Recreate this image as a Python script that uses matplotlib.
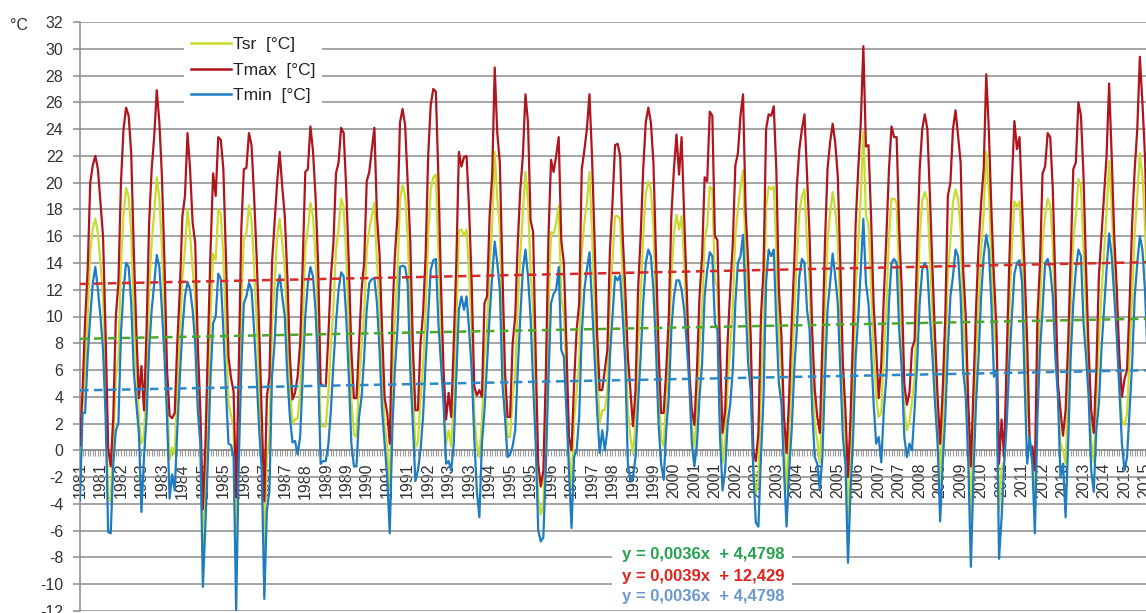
import matplotlib
matplotlib.use('Agg')
import matplotlib.pyplot as plt
from matplotlib.lines import Line2D
from matplotlib.patches import Rectangle
import numpy as np

plt.rcParams['font.family'] = ['Liberation Sans', 'DejaVu Sans']

years = list(range(1981, 2016))

tsr = [
    -1.8, 3.4, 6.0, 10.0, 14.8, 16.6, 17.3, 16.2, 14.0, 11.5, 5.3, -3.5,   # 1981
    -3.8, 0.6, 5.5, 7.0, 14.0, 17.6, 19.6, 19.0, 16.3, 10.2, 6.0, 2.4,    # 1982
    0.5, 1.0, 5.5, 12.0, 15.5, 17.8, 20.4, 18.8, 15.2, 10.2, 4.0, -0.7,   # 1983
    0.2, -0.3, 4.5, 8.5, 13.0, 15.0, 18.0, 16.2, 13.5, 11.5, 5.3, 1.5,    # 1984
    -7.4, -2.6, 3.5, 10.0, 14.7, 14.2, 18.0, 17.7, 14.5, 9.0, 3.5, 2.6,   # 1985
    1.8, -7.8, 2.3, 11.0, 15.8, 16.2, 18.3, 17.2, 13.8, 9.7, 5.0, 0.3,    # 1986
    -7.5, -0.5, 1.0, 9.5, 12.3, 16.0, 17.3, 15.5, 13.5, 9.0, 4.6, 2.0,    # 1987
    2.3, 2.4, 4.3, 9.5, 15.2, 16.5, 18.5, 17.5, 14.5, 9.8, 1.8, 1.8,      # 1988
    1.8, 4.2, 7.8, 10.8, 15.0, 16.5, 18.8, 18.2, 14.5, 9.5, 3.8, 1.2,     # 1989
    1.0, 5.0, 7.8, 10.3, 15.0, 16.5, 17.5, 18.5, 14.0, 11.0, 6.0, 2.0,    # 1990
    0.2, -2.9, 5.5, 10.0, 13.0, 18.8, 19.8, 19.0, 16.0, 10.5, 4.8, 0.2,   # 1991
    0.6, 3.8, 6.2, 10.3, 16.0, 19.5, 20.4, 20.6, 15.0, 9.3, 4.5, 0.5,     # 1992
    1.5, 0.3, 4.0, 9.5, 16.4, 16.5, 16.0, 16.5, 13.3, 9.0, 2.7, 0.5,      # 1993
    -0.5, 2.2, 7.0, 9.0, 13.8, 16.8, 22.3, 18.8, 16.6, 9.0, 4.2, 1.0,     # 1994
    1.0, 4.0, 5.7, 10.7, 14.7, 17.7, 20.8, 18.6, 13.5, 10.5, 3.8, -3.5,   # 1995
    -4.8, -4.0, 2.5, 10.5, 16.3, 16.2, 17.0, 18.3, 11.5, 10.3, 5.5, 0.0,  # 1996
    -2.8, 2.2, 4.5, 6.7, 14.8, 17.0, 18.5, 20.8, 16.3, 11.0, 5.8, 2.0,    # 1997
    3.0, 3.0, 4.5, 11.0, 14.2, 17.5, 17.5, 17.3, 13.0, 9.2, 3.0, 1.0,     # 1998
    -0.2, 2.0, 7.7, 11.5, 16.0, 19.2, 20.1, 19.5, 16.7, 11.0, 4.7, 0.9,   # 1999
    0.3, 3.7, 7.0, 13.0, 16.2, 17.6, 16.5, 17.5, 14.0, 10.0, 5.5, 1.7,    # 2000
    0.3, 3.2, 7.7, 10.5, 15.8, 16.8, 19.7, 19.5, 12.7, 12.2, 4.2, -0.9,   # 2001
    0.7, 5.0, 7.7, 10.7, 16.0, 18.0, 19.7, 20.9, 14.5, 10.2, 6.5, -0.8,   # 2002
    -3.2, -2.3, 4.7, 8.7, 18.2, 19.7, 19.5, 19.7, 15.2, 8.5, 6.0, 0.5,    # 2003
    -3.0, 1.2, 5.5, 10.0, 14.3, 17.7, 19.0, 19.5, 15.5, 12.5, 6.0, 2.0,   # 2004
    0.7, -0.9, 3.7, 10.5, 15.7, 17.7, 19.3, 18.0, 15.7, 10.0, 3.7, 1.0,   # 2005
    -5.2, -0.3, 5.0, 12.0, 15.5, 19.0, 23.8, 17.6, 16.9, 12.5, 7.2, 4.0,  # 2006
    2.5, 2.8, 7.2, 10.7, 16.0, 18.8, 18.8, 18.5, 12.7, 9.0, 3.0, 1.5,     # 2007
    2.2, 3.6, 5.5, 10.7, 16.0, 18.7, 19.3, 18.7, 14.5, 10.2, 6.0, 2.2,    # 2008
    -2.5, 1.7, 6.2, 13.2, 15.7, 18.5, 19.5, 18.8, 16.5, 9.7, 7.0, 1.2,    # 2009
    -5.0, 1.2, 7.0, 11.0, 15.0, 17.7, 22.3, 19.5, 14.5, 9.2, 7.5, -4.5,   # 2010
    -1.3, -0.8, 4.5, 10.2, 15.0, 18.6, 18.2, 18.6, 15.3, 9.2, 3.5, 0.7,   # 2011
    -0.4, -3.9, 6.2, 10.7, 15.5, 17.5, 18.8, 18.3, 15.3, 9.7, 4.5, 0.5,   # 2012
    0.0, -1.0, 4.2, 10.7, 15.8, 17.5, 20.3, 19.7, 15.0, 10.2, 5.7, 0.7,   # 2013
    -0.9, 3.7, 8.2, 11.7, 14.7, 17.7, 21.6, 18.2, 13.7, 10.2, 5.7, 2.2,   # 2014
    1.9, 2.7, 7.0, 11.7, 16.2, 19.0, 22.2, 20.5, 17.0, 11.0, 6.7, 2.2,    # 2015
]

tmax = [
    0.4, 4.5, 9.7, 13.5, 20.0, 21.3, 22.0, 21.0, 18.5, 16.0, 8.7, 0.2,    # 1981
    -1.2, 2.5, 10.0, 12.5, 20.0, 24.0, 25.6, 25.0, 22.2, 15.0, 9.0, 3.9,  # 1982
    6.3, 3.0, 9.0, 17.0, 21.0, 23.5, 26.9, 24.5, 20.5, 14.0, 6.0, 2.6,    # 1983
    2.4, 2.8, 8.0, 12.0, 17.5, 19.0, 23.7, 21.0, 17.0, 15.5, 8.0, 3.0,    # 1984
    -4.4, 0.5, 8.0, 15.0, 20.7, 19.0, 23.4, 23.2, 21.0, 14.5, 7.0, 5.4,   # 1985
    4.4, -3.5, 6.0, 16.5, 21.0, 21.1, 23.7, 22.8, 19.0, 14.5, 9.0, 2.5,   # 1986
    -3.8, 4.0, 5.5, 14.0, 17.0, 20.0, 22.3, 19.7, 17.5, 13.0, 7.0, 3.8,   # 1987
    4.3, 5.5, 8.0, 14.0, 20.8, 21.0, 24.2, 22.4, 19.0, 14.0, 5.0, 4.8,    # 1988
    4.8, 8.5, 13.0, 15.5, 20.7, 21.5, 24.1, 23.7, 19.5, 14.0, 7.5, 3.9,   # 1989
    3.9, 8.0, 12.0, 14.0, 20.1, 20.8, 22.5, 24.1, 17.5, 14.7, 9.0, 3.9,   # 1990
    2.8, 0.5, 10.0, 14.5, 17.5, 24.5, 25.5, 24.3, 20.0, 15.7, 8.0, 3.0,   # 1991
    3.0, 8.0, 10.2, 14.5, 22.0, 25.8, 27.0, 26.8, 20.4, 12.5, 6.0, 2.3,   # 1992
    4.3, 2.5, 8.0, 14.0, 22.3, 21.2, 21.9, 22.0, 18.0, 12.5, 4.8, 4.1,    # 1993
    4.5, 4.0, 11.0, 11.5, 17.5, 20.5, 28.6, 23.7, 21.5, 13.5, 6.0, 2.5,   # 1994
    2.5, 8.0, 10.0, 15.5, 19.5, 22.0, 26.6, 24.5, 17.2, 16.3, 7.2, -1.0,  # 1995
    -2.7, -1.5, 6.0, 16.0, 21.7, 20.8, 22.0, 23.4, 15.7, 14.0, 8.0, 1.0,  # 1996
    0.0, 5.0, 9.0, 11.0, 21.0, 22.4, 24.0, 26.6, 22.0, 15.7, 8.7, 4.5,    # 1997
    4.5, 6.0, 7.5, 15.0, 18.5, 22.8, 22.9, 22.0, 16.0, 12.0, 7.0, 4.5,    # 1998
    1.8, 4.5, 12.0, 16.0, 21.0, 24.5, 25.6, 24.5, 21.5, 14.5, 7.5, 2.8,   # 1999
    2.8, 6.0, 10.0, 17.5, 21.0, 23.6, 20.6, 23.4, 17.5, 12.0, 6.0, 3.0,   # 2000
    1.9, 6.0, 11.5, 14.5, 20.4, 20.1, 25.3, 25.0, 16.0, 15.7, 7.5, 1.3,   # 2001
    3.0, 8.2, 12.0, 15.5, 21.3, 22.2, 25.0, 26.6, 18.0, 14.0, 8.5, 0.0,   # 2002
    -0.8, 1.3, 10.0, 13.5, 24.0, 25.1, 25.0, 25.7, 21.0, 12.0, 8.5, 2.5,  # 2003
    -0.2, 4.0, 9.5, 14.0, 19.7, 22.5, 24.0, 25.1, 20.5, 16.0, 9.0, 4.6,   # 2004
    2.5, 1.3, 8.0, 15.5, 21.0, 23.0, 24.4, 23.0, 20.5, 14.0, 6.5, 3.0,    # 2005
    -2.0, 2.5, 9.0, 17.0, 21.0, 24.5, 30.2, 22.7, 22.8, 17.5, 11.0, 7.5,  # 2006
    3.9, 6.5, 11.5, 16.0, 21.0, 24.2, 23.4, 23.4, 16.5, 12.0, 5.0, 3.4,   # 2007
    4.3, 7.6, 8.2, 15.0, 21.0, 24.0, 25.1, 24.0, 19.0, 13.5, 8.5, 4.0,    # 2008
    0.5, 4.5, 10.0, 19.0, 20.0, 24.0, 25.4, 23.5, 21.5, 13.5, 10.0, 3.5,  # 2009
    -1.2, 4.5, 10.5, 15.2, 18.5, 21.0, 28.1, 24.0, 18.0, 13.0, 9.0, -1.0, # 2010
    2.3, -0.5, 7.0, 14.0, 20.0, 24.6, 22.5, 23.4, 18.5, 13.5, 8.0, 0.3,   # 2011
    0.3, -1.5, 10.0, 14.0, 20.7, 21.2, 23.7, 23.4, 19.5, 12.5, 5.0, 3.0,  # 2012
    1.1, 3.0, 8.0, 14.5, 21.0, 21.5, 26.0, 25.0, 20.5, 13.5, 7.5, 3.0,    # 2013
    1.3, 6.0, 13.0, 16.0, 19.0, 22.0, 27.4, 22.0, 16.0, 12.0, 7.0, 4.0,   # 2014
    5.3, 6.0, 11.0, 17.0, 21.0, 24.0, 29.4, 26.0, 22.0, 15.0, 10.0, 5.0,  # 2015
]

tmin = [
    -3.7, 2.8, 2.8, 7.0, 10.0, 12.5, 13.7, 12.0, 10.0, 7.5, 2.5, -6.1,    # 1981
    -6.2, -1.0, 1.5, 2.0, 8.7, 12.0, 14.0, 13.7, 11.0, 6.0, 3.5, 1.3,     # 1982
    -4.6, -0.5, 2.5, 7.5, 10.5, 12.5, 14.6, 13.7, 10.5, 7.0, 2.5, -3.6,   # 1983
    -1.8, -3.0, 1.5, 5.5, 9.0, 11.5, 12.6, 12.0, 10.5, 8.0, 3.0, 0.5,     # 1984
    -10.2, -5.5, -0.5, 5.5, 9.5, 10.0, 13.2, 12.8, 9.0, 4.5, 0.5, 0.4,    # 1985
    -0.5, -12.0, -1.0, 6.0, 11.0, 11.5, 12.5, 12.0, 9.0, 5.5, 1.5, -1.5,  # 1986
    -11.1, -4.5, -3.0, 5.5, 8.0, 12.0, 13.1, 11.5, 10.0, 5.5, 2.5, 0.6,   # 1987
    0.7, -0.3, 1.0, 5.5, 10.0, 12.5, 13.7, 13.0, 10.5, 6.0, -1.0, -0.8,   # 1988
    -0.8, 0.4, 3.0, 6.5, 9.5, 12.0, 13.3, 13.0, 10.0, 5.5, 0.5, -1.2,     # 1989
    -1.2, 2.5, 4.0, 7.0, 10.5, 12.5, 12.8, 12.85, 11.0, 7.5, 3.0, 0.5,    # 1990
    -2.0, -6.2, 1.5, 6.0, 9.0, 13.7, 13.8, 13.7, 12.5, 6.0, 2.0, -2.3,    # 1991
    -1.5, 0.0, 2.5, 6.5, 10.0, 13.5, 14.2, 14.3, 9.5, 6.5, 3.5, -1.0,     # 1992
    -0.8, -1.5, 0.5, 5.5, 10.5, 11.5, 10.5, 11.5, 9.0, 6.0, 1.0, -3.0,    # 1993
    -5.0, 0.5, 3.0, 6.5, 10.0, 13.0, 15.6, 14.0, 12.0, 5.0, 2.5, -0.5,    # 1994
    -0.3, 0.3, 1.5, 6.0, 10.0, 13.5, 15.0, 13.0, 10.0, 5.0, 0.5, -6.0,    # 1995
    -6.8, -6.5, -1.0, 5.5, 11.0, 11.7, 12.0, 13.7, 7.5, 7.0, 3.0, -1.5,   # 1996
    -5.8, -0.5, 0.0, 2.5, 8.7, 12.0, 13.5, 14.8, 11.0, 7.0, 3.0, -0.2,    # 1997
    1.5, 0.0, 1.5, 7.0, 10.0, 13.0, 12.7, 13.1, 10.0, 6.5, -1.0, -2.3,    # 1998
    -2.0, -0.5, 3.5, 7.0, 11.0, 14.0, 15.0, 14.5, 12.0, 7.5, 2.0, -1.0,   # 1999
    -2.2, 1.5, 4.0, 9.0, 11.5, 12.7, 12.7, 12.0, 10.5, 8.0, 5.0, 0.5,     # 2000
    -1.2, 0.5, 4.0, 6.5, 11.5, 13.5, 14.8, 14.5, 9.5, 9.0, 1.0, -3.0,     # 2001
    -1.5, 2.0, 3.5, 6.0, 11.0, 14.0, 14.5, 16.1, 11.0, 6.5, 4.5, -1.5,    # 2002
    -5.4, -5.7, -0.5, 4.0, 12.5, 15.0, 14.5, 15.0, 9.5, 5.0, 3.5, -1.5,   # 2003
    -5.7, -1.5, 1.5, 6.0, 9.0, 13.0, 14.3, 14.0, 10.5, 9.0, 3.0, -0.5,    # 2004
    -1.0, -3.0, -0.5, 5.5, 10.5, 12.5, 14.7, 13.0, 11.0, 6.0, 1.0, -1.0,  # 2005
    -8.4, -3.0, 1.0, 7.0, 10.0, 13.5, 17.3, 12.5, 11.0, 7.5, 3.5, 0.5,    # 2006
    1.0, -0.9, 3.0, 5.5, 11.0, 14.0, 14.3, 14.0, 9.0, 6.0, 1.0, -0.5,     # 2007
    0.5, 0.0, 3.0, 6.5, 11.0, 13.5, 14.0, 13.5, 10.0, 7.0, 3.5, 0.5,      # 2008
    -5.3, -1.0, 2.5, 7.5, 11.5, 13.0, 15.0, 14.5, 11.5, 6.0, 4.0, -1.0,   # 2009
    -8.7, -2.0, 3.5, 7.0, 11.5, 14.5, 16.1, 15.0, 11.0, 5.5, 6.0, -8.1,   # 2010
    -5.0, -1.0, 2.0, 6.5, 10.0, 13.2, 14.0, 14.2, 12.5, 5.0, -1.0, 1.0,   # 2011
    -1.0, -6.2, 2.5, 7.5, 10.5, 14.0, 14.3, 13.5, 11.5, 7.0, 4.0, -2.0,   # 2012
    -1.0, -5.0, 0.5, 7.0, 11.0, 13.5, 15.0, 14.5, 9.5, 7.0, 4.0, -1.5,    # 2013
    -3.1, 1.5, 3.5, 7.5, 10.5, 13.5, 16.2, 14.5, 11.5, 8.5, 4.5, 0.5,     # 2014
    -1.5, -0.5, 3.0, 6.5, 11.5, 14.0, 16.0, 15.0, 12.0, 7.0, 3.5, -0.5,   # 2015
]

series_labels = ['Tsr  [°C]', 'Tmax  [°C]', 'Tmin  [°C]']
trend_slopes = [0.0036, 0.0039, 0.0036]
trend_intercepts = [8.33, 12.429, 4.4798]
equations = ['y = 0,0036x  + 4,4798', 'y = 0,0039x  + 12,429', 'y = 0,0036x  + 4,4798']

line_colors = ['#c9db2c', '#b0141c', '#1e7cc3']
trend_colors = ['#4fa62d', '#d42a2a', '#2d88c9']
eq_colors = ['#25a24e', '#e2221d', '#6b98cf']

W, H = 1146, 613
fig = plt.figure(figsize=(W / 100, H / 100), dpi=100)


def rect(x0, y0, x1, y1):
    return [x0 / W, 1 - y1 / H, (x1 - x0) / W, (y1 - y0) / H]


n = len(tmax)
months = np.arange(n)
categories = [str(y) for y in years for _ in range(12)]

ax = fig.add_axes(rect(80, 22, 1155.2, 611))
ax.set_xlim(0, n)
ax.set_ylim(-12, 32)

grid_c = '#8c8c8c'
ax.set_yticks(range(-12, 33, 2))
ax.yaxis.grid(True, color=grid_c, lw=1.1)
ax.set_axisbelow(True)
for s in ['top', 'right']:
    ax.spines[s].set_visible(False)
ax.spines['left'].set_color(grid_c)
ax.spines['left'].set_linewidth(1.1)
ax.spines['bottom'].set_position(('data', 0))
ax.spines['bottom'].set_color(grid_c)
ax.spines['bottom'].set_linewidth(1.1)

major = list(range(0, n, 8))
ax.set_xticks(major)
ax.set_xticklabels([categories[i] for i in major], rotation=90, fontsize=11.5,
                   color='#333333', va='top', ha='center')
ax.set_xticks(months, minor=True)
ax.tick_params(axis='x', which='both', direction='out', length=4, width=0.8,
               color='#9a9a9a', pad=5)
ax.tick_params(axis='y', direction='out', length=5, width=1.1, color=grid_c,
               labelsize=11.5, labelcolor='#333333', pad=7)
ax.set_yticklabels([str(v) for v in range(-12, 33, 2)])

data = [tsr, tmax, tmin]
for vals, col, lab in zip(data, line_colors, series_labels):
    ax.plot(months, vals, color=col, lw=1.6, label=lab, zorder=3,
            solid_joinstyle='round')

xs = np.array([0, n - 1])
for sl, ic, col in zip(trend_slopes, trend_intercepts, trend_colors):
    ax.plot(xs, sl * (xs + 1) + ic, color=col, lw=1.8, dashes=(3.4, 2.2), zorder=4)

fig.text(10 / W, 1 - 25 / H, '°C', fontsize=11.5, color='#333333', va='center', ha='left')

handles = [Line2D([0], [0], color=c, lw=1.8) for c in line_colors]
leg = ax.legend(handles, series_labels, loc='upper left',
                bbox_to_anchor=(184 / W, 1 - 30 / H), bbox_transform=fig.transFigure,
                frameon=True, facecolor='white', edgecolor='none', framealpha=1,
                fontsize=12.5, handlelength=2.3, handletextpad=0.1,
                labelspacing=0.6, borderpad=0.4, borderaxespad=0)
leg.set_zorder(6)
for t in leg.get_texts():
    t.set_color('#222222')

box = Rectangle((612 / W, 1 - 606 / H), 180 / W, 61 / H, transform=fig.transFigure,
                facecolor='white', edgecolor='none', zorder=5)
fig.patches.append(box)
for i, (eq, col) in enumerate(zip(equations, eq_colors)):
    fig.text(622 / W, 1 - (555 + 21 * i) / H, eq, color=col, fontsize=12,
             fontweight='bold', va='center', ha='left', zorder=6)

fig.savefig('out.png', dpi=100, facecolor='white')
